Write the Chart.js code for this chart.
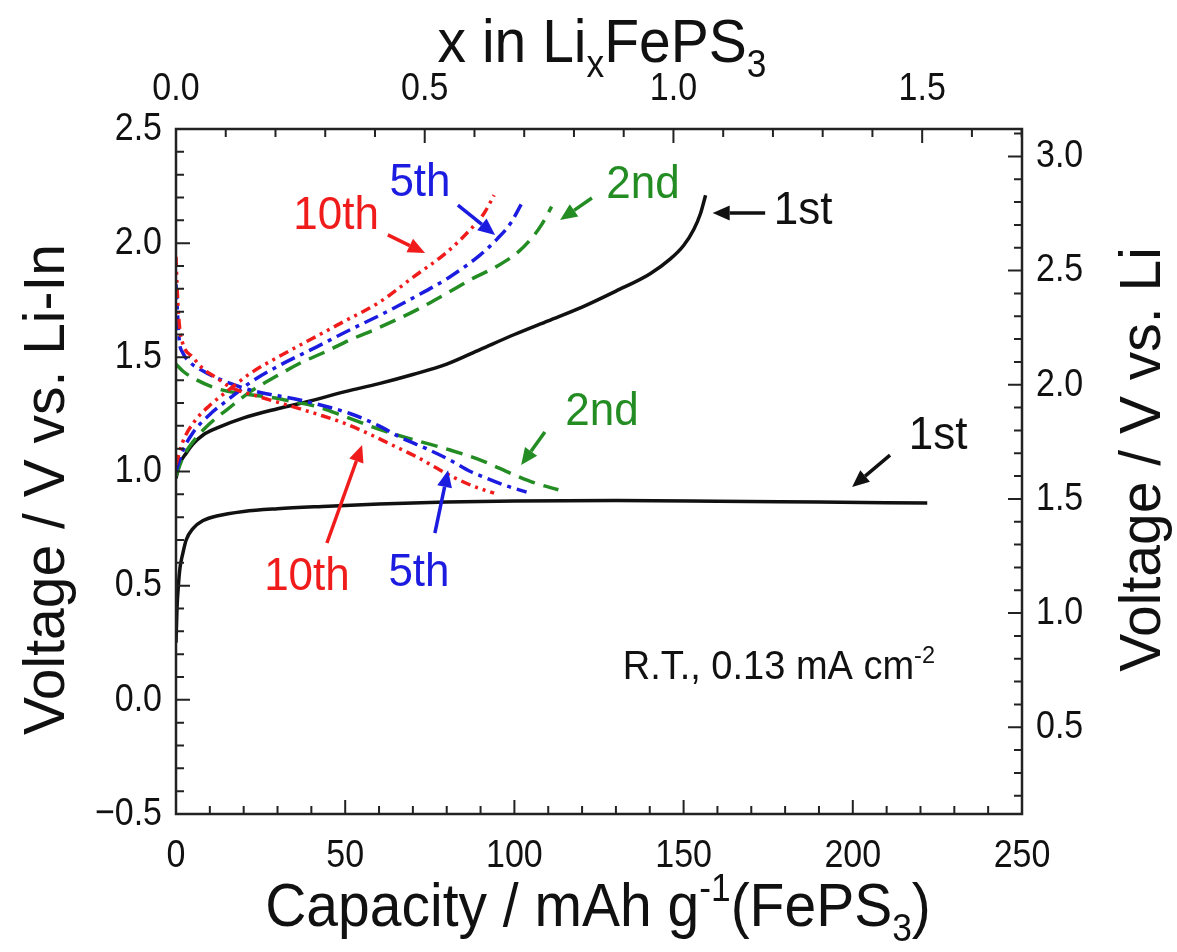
<!DOCTYPE html>
<html>
<head>
<meta charset="utf-8">
<title>FePS3 charge-discharge</title>
<script src="https://cdn.jsdelivr.net/npm/chart.js@4.4.1/dist/chart.umd.min.js"></script>
<style>
  html, body { margin: 0; padding: 0; background: #fff; }
  #wrap { position: relative; width: 1177px; height: 952px; }
</style>
</head>
<body>
<div id="wrap"><canvas id="gr1"></canvas></div>
<script>
// capacity in mAh g-1, voltage in V vs. Li-In
const cap1stDis = [0, 0.3, 0.7, 1.2, 2, 3, 5, 8, 12, 20, 30, 45, 60, 80, 100, 130, 160, 190, 222];
const v1stDis = [0.25, 0.40, 0.50, 0.58, 0.64, 0.70, 0.75, 0.785, 0.805, 0.825, 0.837, 0.848, 0.858, 0.866, 0.871, 0.873, 0.870, 0.866, 0.862];
const cap1stCh = [0, 1, 3, 5, 8, 12, 20, 30, 40, 50, 60, 70, 80, 90, 100, 110, 120, 130, 140, 146, 150, 153, 155, 156.5];
const v1stCh = [0.97, 1.03, 1.08, 1.12, 1.16, 1.19, 1.235, 1.275, 1.31, 1.35, 1.385, 1.425, 1.47, 1.535, 1.60, 1.66, 1.72, 1.79, 1.865, 1.93, 1.99, 2.06, 2.13, 2.21];

const cap2ndDis = [0, 2, 5, 12, 20, 27, 35, 42, 50, 61, 70, 81, 90, 100, 106, 113];
const v2ndDis = [1.47, 1.44, 1.41, 1.364, 1.34, 1.327, 1.305, 1.283, 1.24, 1.18, 1.14, 1.094, 1.05, 0.985, 0.95, 0.92];
const cap2ndCh = [0, 2, 5, 10, 15, 22, 30, 36.6, 45, 51.4, 60, 71, 80, 87, 95, 101, 105, 108, 111];
const v2ndCh = [0.98, 1.06, 1.13, 1.21, 1.27, 1.35, 1.42, 1.474, 1.53, 1.576, 1.63, 1.707, 1.78, 1.84, 1.90, 1.96, 2.02, 2.08, 2.16];

const cap5thDis = [0, 0.5, 1, 2, 4, 8, 12, 22, 36.6, 51.4, 60, 66, 74, 81, 87, 91, 97, 103.6];
const v5thDis = [1.82, 1.68, 1.57, 1.52, 1.48, 1.44, 1.41, 1.357, 1.313, 1.254, 1.20, 1.152, 1.10, 1.05, 1.00, 0.975, 0.94, 0.91];
const cap5thCh = [0, 2, 5, 10, 15, 22, 30, 41.6, 50, 61, 70, 81, 90, 95, 99, 102];
const v5thCh = [1.0, 1.09, 1.17, 1.25, 1.31, 1.39, 1.46, 1.546, 1.61, 1.69, 1.76, 1.853, 1.95, 2.02, 2.09, 2.17];

const cap10thDis = [0, 0.4, 1, 2, 5, 8, 12, 16, 24, 32, 42, 50, 57, 64, 71, 77, 82, 88, 94];
const v10thDis = [1.94, 1.78, 1.64, 1.56, 1.50, 1.45, 1.41, 1.37, 1.33, 1.295, 1.25, 1.21, 1.165, 1.115, 1.065, 1.015, 0.975, 0.935, 0.905];
const cap10thCh = [0, 2, 5, 10, 15, 22, 30, 40, 50, 60, 70, 80, 87, 91, 94];
const v10thCh = [1.03, 1.13, 1.21, 1.29, 1.35, 1.43, 1.50, 1.58, 1.66, 1.74, 1.85, 1.96, 2.06, 2.13, 2.21];

// axes
const capTicks = [0, 50, 100, 150, 200, 250];
const xLiTicks = [0.0, 0.5, 1.0, 1.5];
const vLiInTicks = [-0.5, 0.0, 0.5, 1.0, 1.5, 2.0, 2.5];
const vLiTicks = [0.5, 1.0, 1.5, 2.0, 2.5, 3.0];
const capPerLi = 147;      // mAh g-1 per Li
const liInOffset = 0.62;   // V, Li-In vs. Li

const RED = '#f01c1c', BLUE = '#1c1ce0', GREEN = '#238c23', BLACK = '#111';
const FONT = '"Liberation Sans", Arial, sans-serif';

// annotations: text centre and arrow (from -> tip), in capacity / voltage
const notes = [
  { t: '10th', c: RED, x: 47.3, y: 2.12, from: [62.6, 2.036], to: [73.6, 1.957] },
  { t: '5th', c: BLUE, x: 72.1, y: 2.263, from: [83.3, 2.167], to: [94.3, 2.036] },
  { t: '2nd', c: GREEN, x: 138, y: 2.255, from: [122.9, 2.198], to: [113.5, 2.101] },
  { t: '1st', c: BLACK, x: 185.3, y: 2.141, from: [174.1, 2.132], to: [158.6, 2.132] },
  { t: '2nd', c: GREEN, x: 125.9, y: 1.26, from: [109, 1.173], to: [102, 1.028] },
  { t: '1st', c: BLACK, x: 225.2, y: 1.155, from: [211, 1.072], to: [199.8, 0.932] },
  { t: '10th', c: RED, x: 38.7, y: 0.538, from: [44.6, 0.687], to: [55, 1.116] },
  { t: '5th', c: BLUE, x: 71.8, y: 0.555, from: [76.5, 0.73], to: [80.4, 1.006] }
];

function pts(cap, v) { return cap.map((c, i) => ({ x: c, y: v[i] })); }

const series = [
  { cap: cap10thDis, v: v10thDis, c: RED, dash: [10, 5, 3, 5, 3, 5] },
  { cap: cap10thCh, v: v10thCh, c: RED, dash: [10, 5, 3, 5, 3, 5] },
  { cap: cap5thDis, v: v5thDis, c: BLUE, dash: [15, 6, 4, 6] },
  { cap: cap5thCh, v: v5thCh, c: BLUE, dash: [15, 6, 4, 6] },
  { cap: cap2ndDis, v: v2ndDis, c: GREEN, dash: [17, 9] },
  { cap: cap2ndCh, v: v2ndCh, c: GREEN, dash: [17, 9] },
  { cap: cap1stDis, v: v1stDis, c: BLACK, dash: [] },
  { cap: cap1stCh, v: v1stCh, c: BLACK, dash: [] }
];

const datasets = series.map(s => ({
  data: pts(s.cap, s.v),
  borderColor: s.c,
  borderDash: s.dash,
  borderWidth: 3.5,
  pointRadius: 0,
  fill: false,
  cubicInterpolationMode: 'monotone',
  xAxisID: 'x',
  yAxisID: 'y'
}));

// plain text, stretched a little vertically like the original figure
function txt(ctx, t, x, y, sy) {
  ctx.save();
  ctx.translate(x, y);
  ctx.scale(1, sy);
  ctx.fillText(t, 0, 0);
  ctx.restore();
}

// text with sub / superscripts, y is the baseline
function rich(ctx, parts, x, y, size, align, sy) {
  const fs = k => (k ? size * 0.62 : size);
  let w = 0;
  for (const [t, k] of parts) { ctx.font = fs(k) + 'px ' + FONT; w += ctx.measureText(t).width; }
  let cx = align === 'center' ? x - w / 2 : align === 'right' ? x - w : x;
  ctx.save();
  ctx.translate(0, y);
  ctx.scale(1, sy || 1);
  ctx.textAlign = 'left';
  ctx.textBaseline = 'alphabetic';
  for (const [t, k] of parts) {
    ctx.font = fs(k) + 'px ' + FONT;
    const dy = k === 'sup' ? -size * 0.4 : k === 'sub' ? size * 0.25 : 0;
    ctx.fillText(t, cx, dy);
    cx += ctx.measureText(t).width;
  }
  ctx.restore();
}

function arrow(ctx, x0, y0, x1, y1, color) {
  const ang = Math.atan2(y1 - y0, x1 - x0);
  const hl = 17, hw = 7.5;
  ctx.strokeStyle = color;
  ctx.fillStyle = color;
  ctx.lineWidth = 3.5;
  ctx.setLineDash([]);
  ctx.beginPath();
  ctx.moveTo(x0, y0);
  ctx.lineTo(x1 - hl * Math.cos(ang), y1 - hl * Math.sin(ang));
  ctx.stroke();
  ctx.beginPath();
  ctx.moveTo(x1, y1);
  ctx.lineTo(x1 - hl * Math.cos(ang) + hw * Math.sin(ang), y1 - hl * Math.sin(ang) - hw * Math.cos(ang));
  ctx.lineTo(x1 - hl * Math.cos(ang) - hw * Math.sin(ang), y1 - hl * Math.sin(ang) + hw * Math.cos(ang));
  ctx.closePath();
  ctx.fill();
}

function fmt(v) { return (v < 0 ? '\u2212' : '') + Math.abs(v).toFixed(1); }

const frame = {
  id: 'frame',
  afterDraw(chart) {
    const { ctx, chartArea: a, scales } = chart;
    const sx = scales.x, sx2 = scales.x2, sy = scales.y, sy2 = scales.y2;
    ctx.save();
    ctx.setLineDash([]);

    // inward ticks
    ctx.strokeStyle = '#222';
    ctx.lineWidth = 2;
    const tickRun = (scale, step, majorStep, draw) => {
      const k0 = Math.ceil(scale.min / step - 1e-6), k1 = Math.floor(scale.max / step + 1e-6);
      for (let k = k0; k <= k1; k++) {
        const v = k * step;
        const r = v / majorStep;
        draw(scale.getPixelForValue(v), Math.abs(r - Math.round(r)) < 1e-6 ? 14 : 8);
      }
    };
    ctx.beginPath();
    tickRun(sx, 10, 50, (p, l) => { ctx.moveTo(p, a.bottom); ctx.lineTo(p, a.bottom - l); });
    tickRun(sx2, 0.1, 0.5, (p, l) => { ctx.moveTo(p, a.top); ctx.lineTo(p, a.top + l); });
    tickRun(sy, 0.1, 0.5, (p, l) => { ctx.moveTo(a.left, p); ctx.lineTo(a.left + l, p); });
    tickRun(sy2, 0.1, 0.5, (p, l) => { ctx.moveTo(a.right, p); ctx.lineTo(a.right - l, p); });
    ctx.stroke();

    // frame
    ctx.lineWidth = 2.5;
    ctx.strokeRect(a.left, a.top, a.right - a.left, a.bottom - a.top);

    // tick labels
    const S = 1.15;
    ctx.fillStyle = BLACK;
    ctx.font = '34px ' + FONT;
    ctx.textBaseline = 'middle';
    ctx.textAlign = 'center';
    capTicks.forEach(v => txt(ctx, String(v), sx.getPixelForValue(v), a.bottom + 42, S));
    xLiTicks.forEach(v => txt(ctx, v.toFixed(1), sx2.getPixelForValue(v), a.top - 40, S));
    ctx.textAlign = 'right';
    vLiInTicks.forEach(v => txt(ctx, fmt(v), a.left - 14, sy.getPixelForValue(v), S));
    ctx.textAlign = 'left';
    vLiTicks.forEach(v => txt(ctx, v.toFixed(1), a.right + 14, sy2.getPixelForValue(v), S));

    // axis titles
    const T = 57;
    rich(ctx, [['Capacity / mAh g'], ['-1', 'sup'], ['(FePS'], ['3', 'sub'], [')']], 598, a.bottom + 112, T, 'center', 1.08);
    rich(ctx, [['x in Li'], ['x', 'sub'], ['FePS'], ['3', 'sub']], 602, 62, T, 'center', 1.08);
    ctx.save();
    ctx.translate(64, (a.top + a.bottom) / 2 + 18);
    ctx.rotate(-Math.PI / 2);
    rich(ctx, [['Voltage / V vs. Li-In']], 0, 0, T, 'center', 1);
    ctx.restore();
    ctx.save();
    ctx.translate(1160, (a.top + a.bottom) / 2 - 12);
    ctx.rotate(-Math.PI / 2);
    rich(ctx, [['Voltage / V vs. Li']], 0, 0, T, 'center', 1);
    ctx.restore();

    // condition note
    rich(ctx, [['R.T., 0.13 mA cm'], ['-2', 'sup']], sx.getPixelForValue(224.3), sy.getPixelForValue(0.143) + 12, 38, 'right', 1.05);

    // cycle labels with arrows
    notes.forEach(n => {
      arrow(ctx, sx.getPixelForValue(n.from[0]), sy.getPixelForValue(n.from[1]),
        sx.getPixelForValue(n.to[0]), sy.getPixelForValue(n.to[1]), n.c);
      ctx.fillStyle = n.c;
      ctx.font = '44px ' + FONT;
      ctx.textAlign = 'center';
      ctx.textBaseline = 'middle';
      txt(ctx, n.t, sx.getPixelForValue(n.x), sy.getPixelForValue(n.y), 1.05);
    });
    ctx.restore();
  }
};

const canv = document.getElementById('gr1');
new Chart(canv.getContext('2d'), {
  type: 'line',
  data: { datasets },
  options: {
    responsive: true,
    maintainAspectRatio: false,
    animation: false,
    layout: { padding: { left: 176, top: 129, right: 155, bottom: 138 } },
    plugins: { legend: { display: false }, tooltip: { enabled: false } },
    scales: {
      x: { type: 'linear', min: 0, max: 250, display: false },
      x2: { type: 'linear', position: 'top', min: 0, max: 250 / capPerLi, display: false },
      y: { type: 'linear', min: -0.5, max: 2.5, display: false },
      y2: { type: 'linear', position: 'right', min: -0.5 + liInOffset, max: 2.5 + liInOffset, display: false }
    }
  },
  plugins: [frame]
});
</script>
</body>
</html>
